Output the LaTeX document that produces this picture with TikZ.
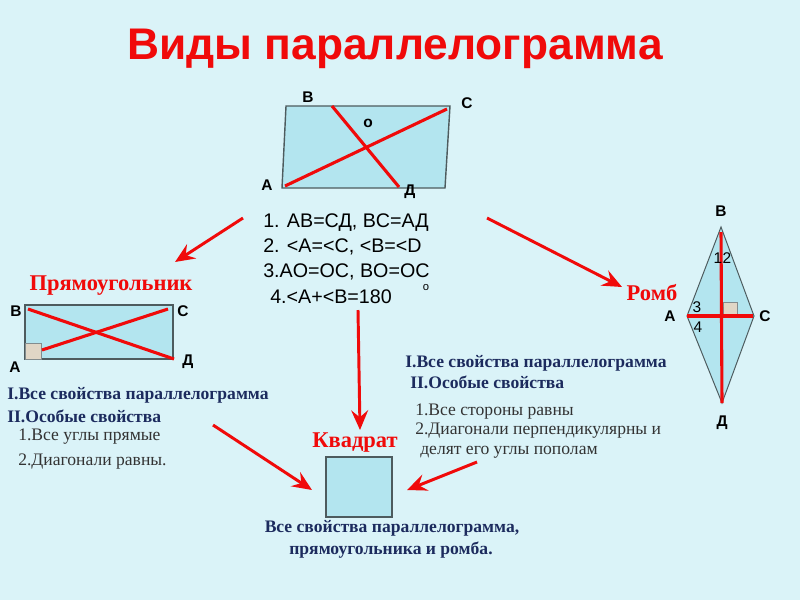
\documentclass[tikz,border=0pt]{standalone}
\usepackage{fontspec}
\setmainfont{Liberation Serif}
\setsansfont{Liberation Sans}
\usetikzlibrary{arrows.meta}
\definecolor{bgColor}{HTML}{DAF3F8}
\definecolor{shapeFill}{HTML}{B3E5EF}
\definecolor{edgeGray}{HTML}{4D5B5E}
\definecolor{mainRed}{HTML}{F00A0A}
\definecolor{navyText}{HTML}{1C2B5E}
\definecolor{plainText}{HTML}{333333}
\definecolor{cornerBg}{HTML}{E0D6C6}

\tikzset{
  figfill/.style={fill=shapeFill, draw=edgeGray, line width=1pt},
  diag/.style={mainRed, line width=2.2pt},
  redarrow/.style={mainRed, line width=2.1pt, -{Stealth[length=14pt, width=12pt, inset=5pt]}},
  vertex/.style={font=\sffamily\bfseries\fontsize{11}{13}\selectfont, inner sep=0pt},
  anglenum/.style={font=\sffamily\fontsize{11}{13}\selectfont, inner sep=0pt},
  redtitle/.style={font=\bfseries\fontsize{16}{18}\selectfont, text=mainRed, inner sep=0pt},
  navyline/.style={font=\bfseries\fontsize{12.5}{15}\selectfont, text=navyText, inner sep=0pt, anchor=west},
  plainline/.style={font=\fontsize{12.5}{15}\selectfont, text=plainText, inner sep=0pt, anchor=west},
  propline/.style={font=\sffamily\fontsize{14}{16}\selectfont, inner sep=0pt, anchor=west},
}

\begin{document}
\begin{tikzpicture}[x=0.025cm, y=-0.025cm]
    \fill[bgColor] (0,0) rectangle (800,600);

    \node[font=\sffamily\bfseries\fontsize{31.5}{36}\selectfont, text=mainRed] (title) at (395,49) {Виды параллелограмма};

    % parallelogram
    \coordinate (pA) at (282,188);
    \coordinate (pB) at (286,106);
    \coordinate (pC) at (450,106);
    \coordinate (pD) at (445,188);
    \draw[figfill] (pA) -- (pB) -- (pC) -- (pD) -- cycle;
    \draw[diag] (285,186) -- (447,109);
    \draw[diag] (332,106) -- (399,187);
    \node[vertex] (labA) at (267,185) {A};
    \node[vertex] (labB) at (308,97) {B};
    \node[vertex] (labC) at (467,103) {C};
    \node[vertex] (labD) at (410,192) {Д};
    \node[vertex] (labO) at (368,123) {o};

    \node[propline] (prop1) at (263,223) {1. AB=СД, BC=АД};
    \node[propline] (prop2) at (263,247) {2. <A=<C, <B=<D};
    \node[propline] (prop3) at (263,272) {3.AO=OC, BO=OC};
    \node[propline] (prop4) at (270,297) {4.<A+<B=180};
    \node[font=\sffamily\fontsize{8}{9}\selectfont, inner sep=0pt] (deg) at (426,288) {o};

    % rectangle
    \coordinate (rA) at (25,359);
    \coordinate (rC) at (173,305);
    \draw[figfill] (rA) rectangle (rC);
    \draw[fill=cornerBg, draw=edgeGray!70, line width=0.6pt] (25,343) rectangle (41,359);
    \draw[diag] (28,309) -- (174,359);
    \draw[diag] (42,350) -- (168,309);
    \node[vertex] (recB) at (16,311) {B};
    \node[vertex] (recC) at (183,311) {C};
    \node[vertex] (recA) at (15,367) {A};
    \node[vertex] (recD) at (188,362) {Д};
    \node[redtitle] (rectName) at (111,286) {Прямоугольник};

    \node[navyline] (recT1) at (7,395) {I.Все свойства параллелограмма};
    \node[navyline] (recT2) at (7,416) {II.Особые свойства};
    \node[plainline] (recT3) at (18,437) {1.Все углы прямые};
    \node[plainline] (recT4) at (18,462) {2.Диагонали равны.};

    % rhombus
    \coordinate (mB) at (721,227);
    \coordinate (mC) at (754,316);
    \coordinate (mD) at (722,403);
    \coordinate (mA) at (687,316);
    \draw[figfill, line width=0.7pt] (mA) -- (mB) -- (mC) -- (mD) -- cycle;
    \draw[fill=cornerBg, draw=edgeGray!70, line width=0.6pt] (723,302) rectangle (737,316);
    \draw[diag] (721,232) -- (mD);
    \draw[diag] (mA) -- (753,316);
    \node[vertex] (rhB) at (721,211) {B};
    \node[vertex] (rhA) at (670,316) {A};
    \node[vertex] (rhC) at (765,316) {C};
    \node[vertex] (rhD) at (722,423) {Д};
    \node[anglenum] (ang1) at (718,258) {1};
    \node[anglenum] (ang2) at (727,258) {2};
    \node[anglenum] (ang3) at (697,307) {3};
    \node[anglenum] (ang4) at (698,327) {4};
    \node[redtitle] (rhName) at (652,293) {Ромб};

    \node[navyline] (rhT1) at (405,363) {I.Все свойства параллелограмма};
    \node[navyline] (rhT2) at (410,382) {II.Особые свойства};
    \node[plainline] (rhT3) at (415,412) {1.Все стороны равны};
    \node[plainline] (rhT4) at (415,431) {2.Диагонали перпендикулярны и};
    \node[plainline] (rhT5) at (420,452) {делят его углы пополам};

    % square
    \draw[figfill] (326,457) rectangle (392,517);
    \node[redtitle] (sqName) at (355,443) {Квадрат};
    \node[font=\bfseries\fontsize{12.5}{15}\selectfont, text=navyText, inner sep=0pt] (sqT1) at (392,528) {Все свойства параллелограмма,};
    \node[font=\bfseries\fontsize{12.5}{15}\selectfont, text=navyText, inner sep=0pt] (sqT2) at (391,550) {прямоугольника и ромба.};

    % arrows
    \coordinate (a1s) at (243,218);
    \coordinate (a1e) at (175,262);
    \coordinate (a2s) at (487,218);
    \coordinate (a2e) at (622,287);
    \coordinate (a3s) at (358,310);
    \coordinate (a3e) at (360,430);
    \coordinate (a4s) at (213,425);
    \coordinate (a4e) at (312,490);
    \coordinate (a5s) at (477,462);
    \coordinate (a5e) at (407,490);
    \draw[redarrow] (a1s) -- (a1e);
    \draw[redarrow] (a2s) -- (a2e);
    \draw[redarrow] (a3s) -- (a3e);
    \draw[redarrow] (a4s) -- (a4e);
    \draw[redarrow] (a5s) -- (a5e);
\end{tikzpicture}
\end{document}
